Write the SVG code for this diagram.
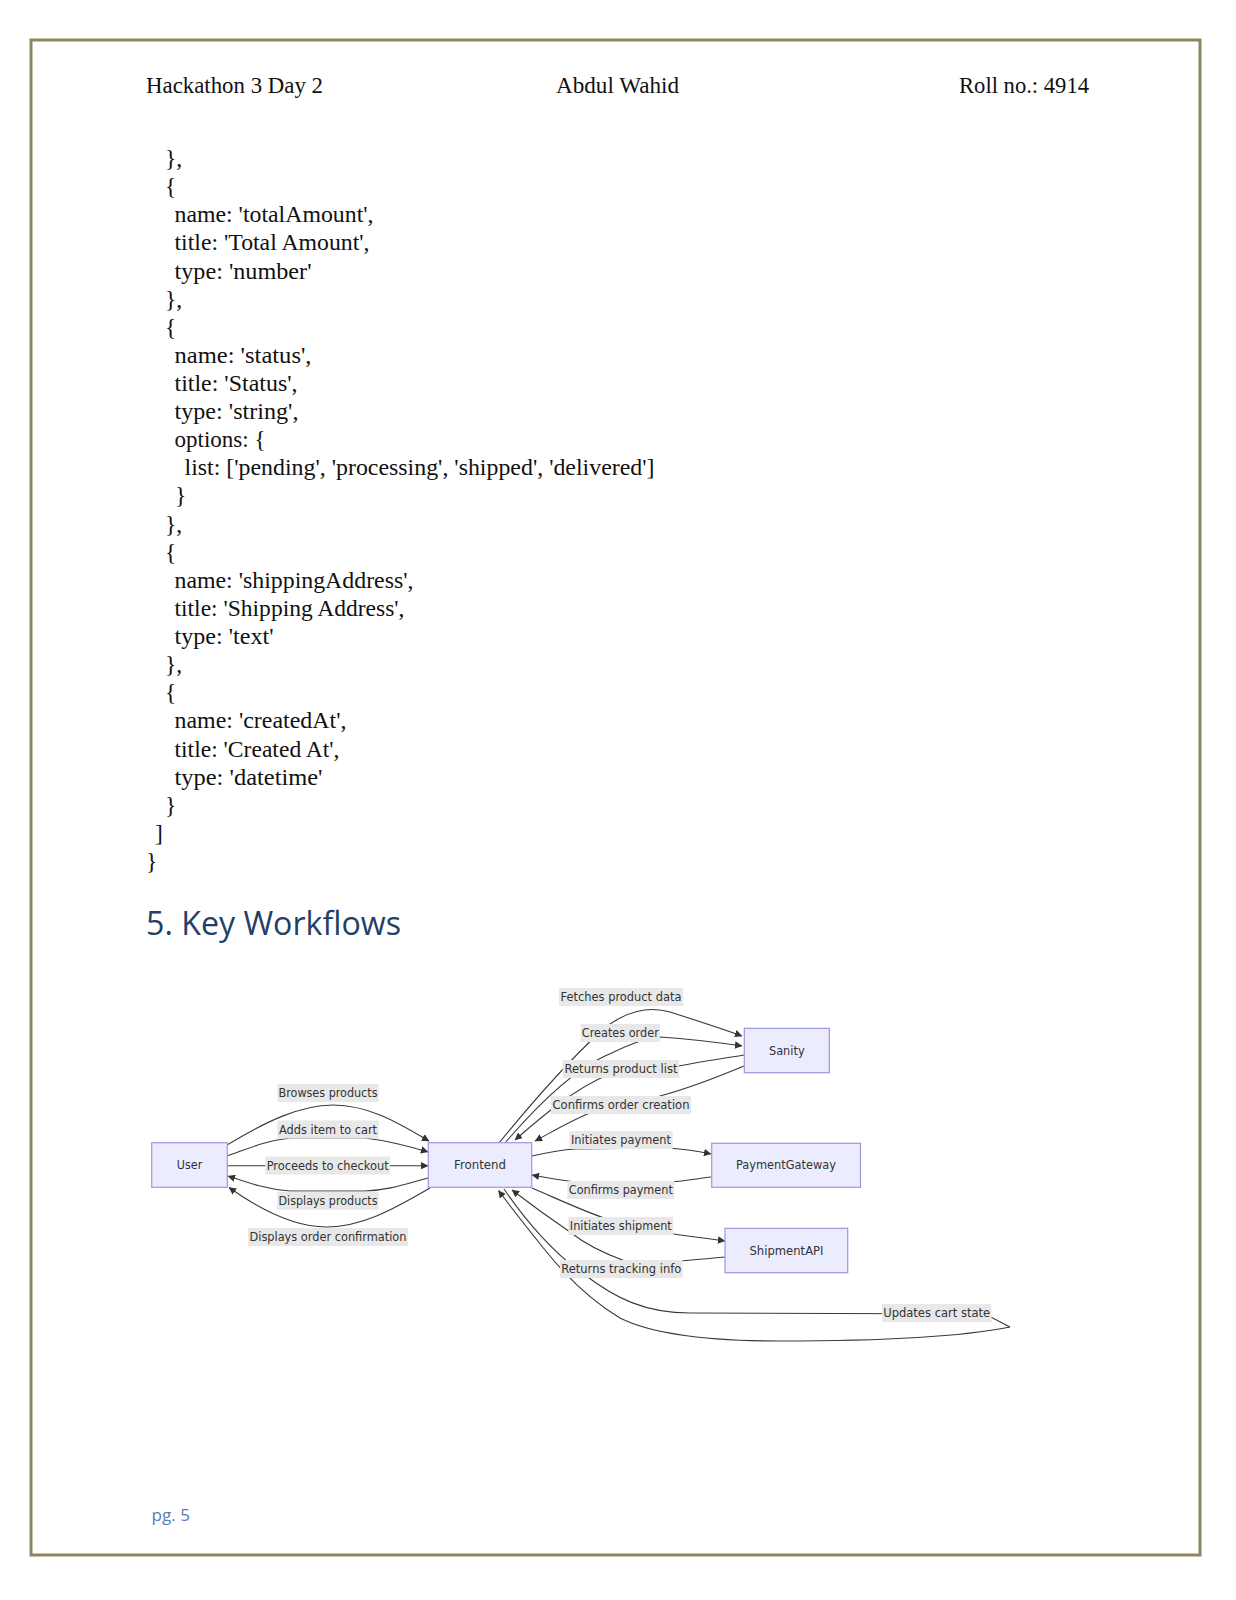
<svg xmlns="http://www.w3.org/2000/svg" width="1236" height="1600" viewBox="0 0 1236 1600">
<style>
.code{font-family:"Liberation Serif","Times New Roman",serif;font-size:23.5px;fill:#111}
.head{font-family:"Liberation Serif","Times New Roman",serif;font-size:23px;fill:#111}
.h1{font-family:"Open Sans","Liberation Sans",sans-serif;font-size:32px;fill:#243f66}
.pg{font-family:"Open Sans","Liberation Sans",sans-serif;font-size:17px;fill:#5a7db5}
.node rect{fill:#ececff;stroke:#a394de;stroke-width:1.2}
.nt{font-family:"DejaVu Sans","Liberation Sans",sans-serif;font-size:11.5px;fill:#333;text-anchor:middle}
.lbg{fill:#e8e8e8}
.edge{fill:none;stroke:#3a3a3a;stroke-width:1.1}
</style>
<defs>
<marker id="arr" viewBox="0 0 10 10" refX="9.5" refY="5" markerWidth="7.5" markerHeight="7.5" markerUnits="userSpaceOnUse" orient="auto">
<path d="M0,0 L10,5 L0,10 z" fill="#333"/>
</marker>
</defs>
<rect x="0" y="0" width="1236" height="1600" fill="#ffffff"/>
<rect x="31" y="40" width="1169" height="1515" fill="none" stroke="#8b8660" stroke-width="3"/>

<g id="header">
<text class="head" x="146" y="93" textLength="177" lengthAdjust="spacingAndGlyphs">Hackathon 3 Day 2</text>
<text class="head" x="556" y="93" textLength="123" lengthAdjust="spacingAndGlyphs">Abdul Wahid</text>
<text class="head" x="959" y="93" textLength="130" lengthAdjust="spacingAndGlyphs">Roll no.: 4914</text>
</g>

<g id="code">
<text class="code" x="165" y="166">},</text>
<text class="code" x="165" y="194.1">{</text>
<text class="code" x="174.5" y="222.2" textLength="199" lengthAdjust="spacingAndGlyphs">name: 'totalAmount',</text>
<text class="code" x="174.5" y="250.4" textLength="195" lengthAdjust="spacingAndGlyphs">title: 'Total Amount',</text>
<text class="code" x="174.5" y="278.5" textLength="137" lengthAdjust="spacingAndGlyphs">type: 'number'</text>
<text class="code" x="165" y="306.6">},</text>
<text class="code" x="165" y="334.7">{</text>
<text class="code" x="174.5" y="362.8" textLength="137" lengthAdjust="spacingAndGlyphs">name: 'status',</text>
<text class="code" x="174.5" y="391" textLength="123" lengthAdjust="spacingAndGlyphs">title: 'Status',</text>
<text class="code" x="174.5" y="419.1" textLength="124" lengthAdjust="spacingAndGlyphs">type: 'string',</text>
<text class="code" x="174.5" y="447.2" textLength="91" lengthAdjust="spacingAndGlyphs">options: {</text>
<text class="code" x="184.5" y="475.3" textLength="470" lengthAdjust="spacingAndGlyphs">list: ['pending', 'processing', 'shipped', 'delivered']</text>
<text class="code" x="175" y="503.4">}</text>
<text class="code" x="165" y="531.6">},</text>
<text class="code" x="165" y="559.7">{</text>
<text class="code" x="174.5" y="587.8" textLength="239" lengthAdjust="spacingAndGlyphs">name: 'shippingAddress',</text>
<text class="code" x="174.5" y="615.9" textLength="230" lengthAdjust="spacingAndGlyphs">title: 'Shipping Address',</text>
<text class="code" x="174.5" y="644" textLength="99" lengthAdjust="spacingAndGlyphs">type: 'text'</text>
<text class="code" x="165" y="672.2">},</text>
<text class="code" x="165" y="700.3">{</text>
<text class="code" x="174.5" y="728.4" textLength="172" lengthAdjust="spacingAndGlyphs">name: 'createdAt',</text>
<text class="code" x="174.5" y="756.5" textLength="165" lengthAdjust="spacingAndGlyphs">title: 'Created At',</text>
<text class="code" x="174.5" y="784.6" textLength="148" lengthAdjust="spacingAndGlyphs">type: 'datetime'</text>
<text class="code" x="165" y="812.8">}</text>
<text class="code" x="155" y="840.9">]</text>
<text class="code" x="146" y="869">}</text>
</g>

<text class="h1" x="146" y="935" textLength="255" lengthAdjust="spacingAndGlyphs">5. Key Workflows</text>

<g id="connectors">
<path class="edge" marker-end="url(#arr)" d="M227,1145 C 265,1122 300,1105 333,1105 C 370,1105 400,1124 429,1141"/>
<path class="edge" marker-end="url(#arr)" d="M227,1156 C 250,1148 265,1141 290,1138 L 365,1138 C 390,1141 408,1146 428,1152"/>
<path class="edge" marker-end="url(#arr)" d="M227,1165.7 L 428,1165.7"/>
<path class="edge" marker-end="url(#arr)" d="M428,1178 C 405,1184 390,1190 365,1191 L 290,1191 C 265,1189 246,1182 228,1176"/>
<path class="edge" marker-end="url(#arr)" d="M430,1188 C 400,1205 365,1227 326,1227 C 290,1227 255,1206 229,1187.5"/>
<path class="edge" marker-end="url(#arr)" d="M499,1143 C 530,1105 570,1060 600,1032 C 625,1010 650,1006 670,1012 C 695,1020 720,1028 742,1036"/>
<path class="edge" marker-end="url(#arr)" d="M505,1143 C 535,1108 570,1072 605,1056 C 625,1047 640,1039 660,1037 C 690,1039 715,1042 742,1046"/>
<path class="edge" marker-end="url(#arr)" d="M744,1055 C 720,1059 700,1062 679,1066 L 610,1074 C 575,1088 540,1118 515,1140"/>
<path class="edge" marker-end="url(#arr)" d="M744,1066 C 720,1076 690,1088 660,1096 L 590,1113 C 570,1121 552,1132 535,1141"/>
<path class="edge" marker-end="url(#arr)" d="M532,1156 C 550,1152 560,1150 575,1149 L 665,1148 C 685,1149 697,1151 711,1154"/>
<path class="edge" marker-end="url(#arr)" d="M711,1177 C 695,1179 685,1181 670,1182 L 575,1182 C 560,1180 548,1178 532,1175"/>
<path class="edge" marker-end="url(#arr)" d="M532,1188 C 560,1200 585,1212 610,1220 L 660,1232 C 685,1236 705,1238 725,1241"/>
<path class="edge" marker-end="url(#arr)" d="M725,1257 C 705,1259 692,1260 680,1261 L 625,1261 C 600,1252 585,1244 570,1232 C 545,1215 525,1200 512,1190"/>
<path class="edge" d="M504,1189 C 525,1220 555,1255 585,1275 C 615,1298 645,1313 690,1313 L 985,1314 L 1010,1327"/>
<path class="edge" marker-end="url(#arr)" d="M1010,1327 C 960,1337 880,1341 780,1341 C 700,1341 650,1333 620,1318 C 590,1300 565,1275 545,1250 C 525,1225 510,1206 498.5,1190.5"/>
</g>

<g id="edge-labels">
<g id="lbl-browses"><rect class="lbg" x="277.3" y="1084" width="101.4" height="18"/><text class="nt" x="328" y="1097" textLength="99" lengthAdjust="spacingAndGlyphs">Browses products</text></g>
<g id="lbl-adds"><rect class="lbg" x="277.3" y="1120.5" width="101.4" height="18"/><text class="nt" x="328" y="1133.5" textLength="98" lengthAdjust="spacingAndGlyphs">Adds item to cart</text></g>
<g id="lbl-proceeds"><rect class="lbg" x="265.3" y="1156.5" width="124.7" height="18"/><text class="nt" x="327.7" y="1169.5" textLength="122" lengthAdjust="spacingAndGlyphs">Proceeds to checkout</text></g>
<g id="lbl-displays"><rect class="lbg" x="277.3" y="1191.7" width="101.4" height="18"/><text class="nt" x="328" y="1204.7" textLength="99" lengthAdjust="spacingAndGlyphs">Displays products</text></g>
<g id="lbl-confirmation"><rect class="lbg" x="248" y="1228" width="160" height="18"/><text class="nt" x="328" y="1241" textLength="157" lengthAdjust="spacingAndGlyphs">Displays order confirmation</text></g>
<g id="lbl-fetches"><rect class="lbg" x="559" y="988" width="124.3" height="18"/><text class="nt" x="621" y="1001" textLength="121" lengthAdjust="spacingAndGlyphs">Fetches product data</text></g>
<g id="lbl-creates"><rect class="lbg" x="580.7" y="1024" width="79.3" height="18"/><text class="nt" x="620.3" y="1037" textLength="77" lengthAdjust="spacingAndGlyphs">Creates order</text></g>
<g id="lbl-returns"><rect class="lbg" x="562.7" y="1060" width="116.3" height="18"/><text class="nt" x="621" y="1073" textLength="113" lengthAdjust="spacingAndGlyphs">Returns product list</text></g>
<g id="lbl-confirms-order"><rect class="lbg" x="551" y="1096" width="140" height="18"/><text class="nt" x="621" y="1109" textLength="137" lengthAdjust="spacingAndGlyphs">Confirms order creation</text></g>
<g id="lbl-init-pay"><rect class="lbg" x="569.3" y="1131" width="103.4" height="18"/><text class="nt" x="621" y="1144" textLength="100" lengthAdjust="spacingAndGlyphs">Initiates payment</text></g>
<g id="lbl-conf-pay"><rect class="lbg" x="567.3" y="1181" width="107" height="18"/><text class="nt" x="620.8" y="1194" textLength="104" lengthAdjust="spacingAndGlyphs">Confirms payment</text></g>
<g id="lbl-init-ship"><rect class="lbg" x="568.3" y="1217" width="105" height="18"/><text class="nt" x="620.8" y="1230" textLength="102" lengthAdjust="spacingAndGlyphs">Initiates shipment</text></g>
<g id="lbl-tracking"><rect class="lbg" x="560" y="1260" width="122.7" height="18"/><text class="nt" x="621.3" y="1273" textLength="120" lengthAdjust="spacingAndGlyphs">Returns tracking info</text></g>
<g id="lbl-cart"><rect class="lbg" x="882" y="1304" width="109.5" height="18"/><text class="nt" x="936.7" y="1317" textLength="107" lengthAdjust="spacingAndGlyphs">Updates cart state</text></g>
</g>

<g id="node-user" class="node"><rect x="151.7" y="1142.7" width="75.6" height="44.6"/><text class="nt" x="189.5" y="1169" textLength="25.5" lengthAdjust="spacingAndGlyphs">User</text></g>
<g id="node-frontend" class="node"><rect x="428.3" y="1142.7" width="103.4" height="44.6"/><text class="nt" x="480" y="1169" textLength="52" lengthAdjust="spacingAndGlyphs">Frontend</text></g>
<g id="node-sanity" class="node"><rect x="744.3" y="1028.3" width="85" height="44.4"/><text class="nt" x="786.8" y="1054.5" textLength="35.7" lengthAdjust="spacingAndGlyphs">Sanity</text></g>
<g id="node-paymentgateway" class="node"><rect x="711.7" y="1143.3" width="148.8" height="44"/><text class="nt" x="786" y="1169" textLength="100" lengthAdjust="spacingAndGlyphs">PaymentGateway</text></g>
<g id="node-shipmentapi" class="node"><rect x="725" y="1228.3" width="122.7" height="44.4"/><text class="nt" x="786.5" y="1254.5" textLength="74" lengthAdjust="spacingAndGlyphs">ShipmentAPI</text></g>

<text class="pg" x="151.5" y="1521" textLength="38.5" lengthAdjust="spacingAndGlyphs">pg. 5</text>
</svg>
